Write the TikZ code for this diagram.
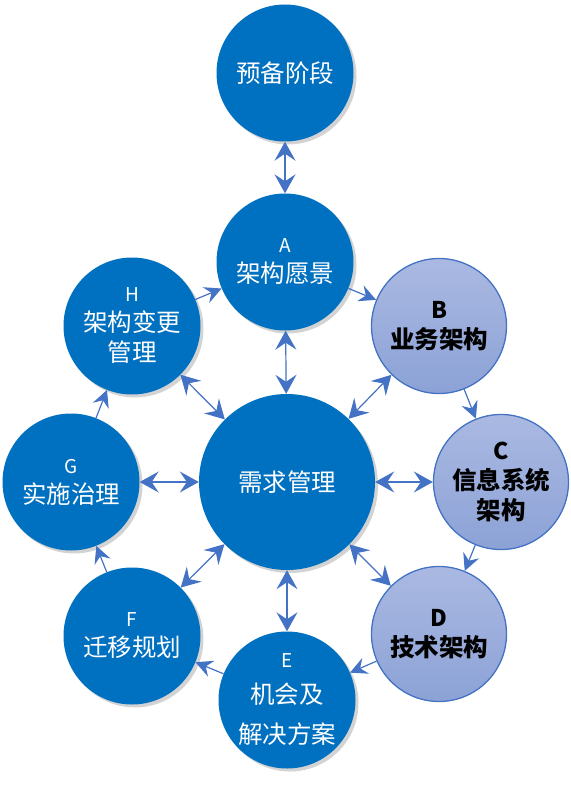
\documentclass[tikz,border=0pt]{standalone}
\usepackage{fontspec}
\setmainfont{Noto Sans CJK SC}
\usetikzlibrary{arrows.meta, shadows}
\definecolor{archblue}{RGB}{0, 112, 192}
\definecolor{linkblue}{RGB}{68, 114, 196}
\definecolor{phasetop}{RGB}{170, 185, 226}
\definecolor{phasebot}{RGB}{140, 162, 214}
\newcommand{\phaseletter}[1]{{\fontsize{19}{30}\selectfont #1}}
\newcommand{\boldletter}[1]{{\fontsize{23}{30}\selectfont #1}}
\begin{document}
\begin{tikzpicture}[x=1pt, y=-1pt,
    phase/.style={circle, minimum size=137pt, inner sep=0pt, align=center, fill=archblue, text=white,
      font=\fontsize{24.5}{30}\selectfont, drop shadow={shadow xshift=3pt, shadow yshift=-3pt, opacity=0.35}},
    busy/.style={circle, minimum size=135pt, inner sep=0pt, align=center, top color=phasetop, bottom color=phasebot,
      draw=linkblue, line width=1.3pt, text=black, font=\bfseries\fontsize{24.5}{30}\selectfont},
    both/.style={linkblue, line width=1.2pt, {Stealth[length=19pt, width=21pt, inset=7pt]}-{Stealth[length=19pt, width=21pt, inset=7pt]}},
    turn/.style={linkblue, line width=1.2pt, -{Stealth[length=17pt, width=17pt, inset=6pt]}}]
  \useasboundingbox (0,0) rectangle (570,794);
  % Preliminary phase and centre
  \node[phase] (prep) at (285,73) {预备阶段};
  \node[phase, minimum size=176pt] (req) at (287,482) {需求管理};
  % Phases round the ring
  \node[phase] (va) at (285,262) {\phaseletter{A}\\架构愿景};
  \node[busy] (vb) at (439,326) {\boldletter{B}\\业务架构};
  \node[busy] (vc) at (501,482) {\boldletter{C}\\信息系统\\架构};
  \node[busy] (vd) at (439,634) {\boldletter{D}\\技术架构};
  \node[phase] (ve) at (287,700) {\phaseletter{E}\\[6pt]机会及\\[10pt]解决方案};
  \node[phase] (vf) at (132,636) {\phaseletter{F}\\迁移规划};
  \node[phase] (vg) at (71,482) {\phaseletter{G}\\实施治理};
  \node[phase] (vh) at (132,326) {\phaseletter{H}\\架构变更\\管理};
  % Links to the centre
  \draw[both] (prep) -- (va);
  \foreach \n in {va,vb,vc,vd,ve,vf,vg,vh}
    \draw[both] (req) -- (\n);
  % Cycle
  \foreach \a/\b in {va/vb,vb/vc,vc/vd,vd/ve,ve/vf,vf/vg,vg/vh,vh/va}
    \draw[turn] (\a) -- (\b);
\end{tikzpicture}
\end{document}
